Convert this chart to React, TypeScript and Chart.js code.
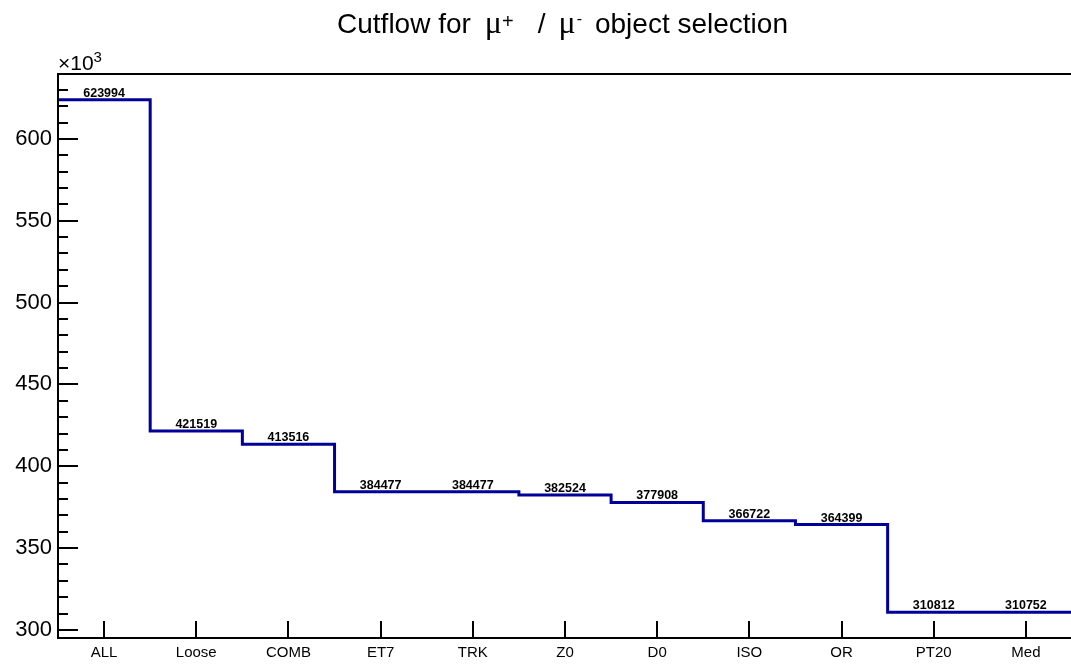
import React, { useEffect, useRef } from "react";
import { Chart, registerables } from "chart.js";

Chart.register(...registerables);

const categories = ["ALL", "Loose", "COMB", "ET7", "TRK", "Z0", "D0", "ISO", "OR", "PT20", "Med"];
const counts = [623994, 421519, 413516, 384477, 384477, 382524, 377908, 366722, 364399, 310812, 310752];
const yMajorTicks = [300000, 350000, 400000, 450000, 500000, 550000, 600000];
const yMinorStep = 10000;
const titleSegments = [
  { text: "Cutflow for", kind: "sans", gap: 0 },
  { text: "μ", kind: "greek", gap: 14 },
  { text: "+", kind: "sup", gap: 0 },
  { text: "/", kind: "sans", gap: 24 },
  { text: "μ", kind: "greek", gap: 13 },
  { text: "-", kind: "supminus", gap: 1 },
  { text: "object selection", kind: "sans", gap: 13 },
];

const SANS = "'Liberation Sans', Arial, Helvetica, sans-serif";
const SERIF = "'Liberation Serif', 'Times New Roman', serif";

const maxV = Math.max(...counts);
const minV = Math.min(...counts);
const yMin = minV - 0.05 * (maxV - minV);
const yMax = maxV + 0.05 * (maxV - minV);

const stepPoints = counts.map((v, i) => ({ x: i, y: v })).concat([{ x: counts.length, y: counts[counts.length - 1] }]);

const decorPlugin = {
  id: "rootDecor",
  afterDatasetsDraw(chart: any) {
    const { ctx, chartArea } = chart;
    const xs = chart.scales.x;
    const ys = chart.scales.y;
    const { left, right, top, bottom } = chartArea;
    ctx.save();
    // value labels
    ctx.fillStyle = "#000";
    ctx.font = `bold 12.5px ${SANS}`;
    ctx.textAlign = "center";
    ctx.textBaseline = "alphabetic";
    counts.forEach((v, i) => {
      const cx = xs.getPixelForValue(i + 0.5);
      const py = ys.getPixelForValue(v);
      ctx.fillText(String(v), cx, py - 3);
    });
    // frame
    ctx.strokeStyle = "#000";
    ctx.lineWidth = 2;
    ctx.strokeRect(left, top, right - left, bottom - top);
    // y ticks
    ctx.beginPath();
    const startMinor = Math.ceil(yMin / yMinorStep) * yMinorStep;
    for (let v = startMinor; v <= yMax; v += yMinorStep) {
      const py = Math.round(ys.getPixelForValue(v));
      const major = v % 50000 === 0;
      const len = major ? 20 : 10;
      ctx.moveTo(left, py);
      ctx.lineTo(left + len, py);
    }
    // x ticks
    categories.forEach((_, i) => {
      const px = Math.round(xs.getPixelForValue(i + 0.5));
      ctx.moveTo(px, bottom);
      ctx.lineTo(px, bottom - 17);
    });
    ctx.stroke();
    // x10^3
    ctx.textAlign = "left";
    ctx.font = `21px ${SANS}`;
    ctx.fillText("×10", left, 70);
    const w10 = ctx.measureText("×10").width;
    ctx.font = `15px ${SANS}`;
    ctx.fillText("3", left + w10, 62);
    // title
    const fontFor = (k: string) =>
      k === "greek"
        ? `32px ${SERIF}`
        : k === "sup"
        ? `20px ${SANS}`
        : k === "supminus"
        ? `16px ${SANS}`
        : `28px ${SANS}`;
    const dyFor = (k: string) => (k === "sup" ? -5 : k === "supminus" ? -9 : 0);
    let total = 0;
    titleSegments.forEach((s) => {
      ctx.font = fontFor(s.kind);
      total += s.gap + ctx.measureText(s.text).width;
    });
    let x = 562.5 - total / 2;
    const base = 33;
    titleSegments.forEach((s) => {
      ctx.font = fontFor(s.kind);
      x += s.gap;
      ctx.fillText(s.text, x, base + dyFor(s.kind));
      x += ctx.measureText(s.text).width;
    });
    ctx.restore();
  },
};

export default function App() {
  const ref = useRef<HTMLCanvasElement | null>(null);
  useEffect(() => {
    document.body.style.margin = "0";
    document.body.style.overflow = "hidden";
    const canvas = ref.current;
    if (!canvas) return;
    const chart = new Chart(canvas, {
      type: "line",
      data: {
        datasets: [
          {
            data: stepPoints,
            stepped: "before",
            borderColor: "#000099",
            borderWidth: 3,
            pointRadius: 0,
            fill: false,
          },
        ],
      },
      options: {
        animation: false,
        responsive: false,
        devicePixelRatio: 1,
        layout: { padding: { top: 74, left: 0, right: 0, bottom: 0 } },
        plugins: { legend: { display: false }, title: { display: false }, tooltip: { enabled: false } },
        scales: {
          x: {
            type: "linear",
            min: 0,
            max: categories.length,
            grid: { display: false, drawTicks: false, tickLength: 0 },
            border: { display: false },
            afterBuildTicks: (scale: any) => {
              scale.ticks = categories.map((_, i) => ({ value: i + 0.5 }));
            },
            afterFit: (scale: any) => {
              scale.height = 27;
            },
            ticks: {
              autoSkip: false,
              maxRotation: 0,
              minRotation: 0,
              padding: 6,
              color: "#000",
              font: { family: SANS, size: 15 },
              callback: (_v: any, i: number) => categories[i],
            },
          },
          y: {
            type: "linear",
            min: yMin,
            max: yMax,
            grid: { display: false, drawTicks: false, tickLength: 0 },
            border: { display: false },
            afterBuildTicks: (scale: any) => {
              scale.ticks = yMajorTicks.map((v) => ({ value: v }));
            },
            afterFit: (scale: any) => {
              scale.width = 58;
            },
            ticks: {
              padding: 6,
              color: "#000",
              font: { family: SANS, size: 22 },
              callback: (v: any) => String(Math.round(Number(v) / 1000)),
            },
          },
        },
      },
      plugins: [decorPlugin],
    });
    return () => chart.destroy();
  }, []);
  return (
    <div style={{ width: 1071, height: 665, overflow: "hidden", position: "relative", background: "#fff" }}>
      <canvas ref={ref} width={1072} height={665} style={{ display: "block" }} />
    </div>
  );
}
